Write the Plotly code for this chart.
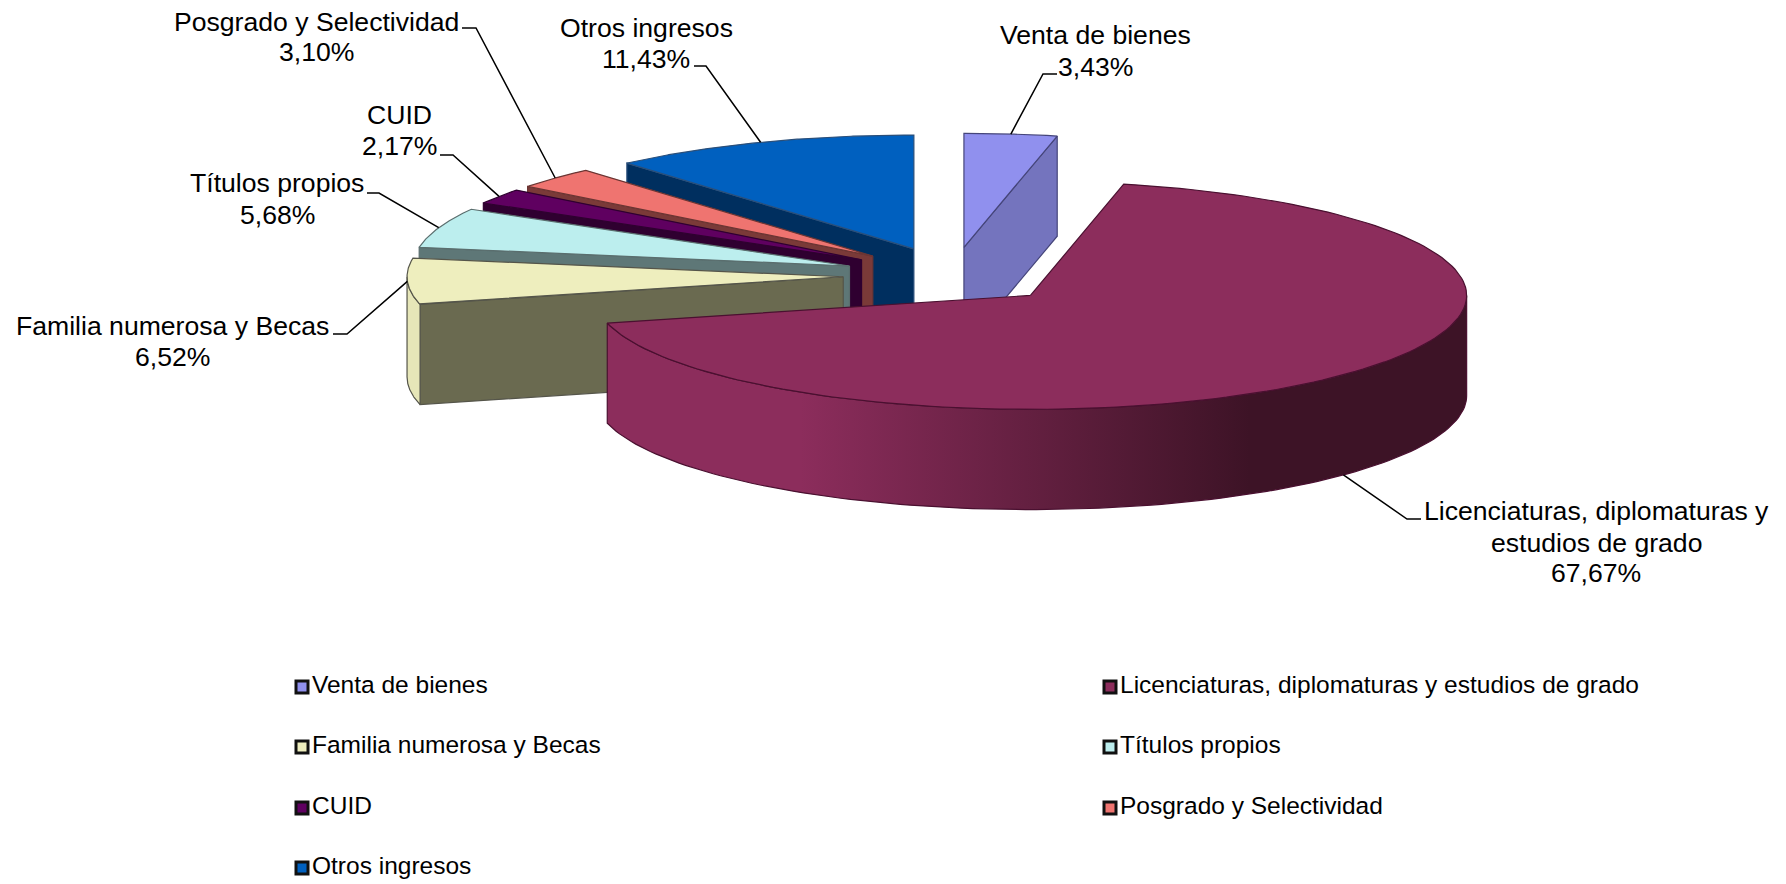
import numpy as np
import plotly.graph_objects as go

categories = [
    "Venta de bienes",
    "Licenciaturas, diplomaturas y estudios de grado",
    "Familia numerosa y Becas",
    "Títulos propios",
    "CUID",
    "Posgrado y Selectividad",
    "Otros ingresos",
]
values = [3.43, 67.67, 6.52, 5.68, 2.17, 3.10, 11.43]
top_colors = ["#9090EE", "#8C2D5C", "#EEEEBE", "#BCEEEE", "#5F0060", "#EF7470", "#0060BF"]
wall_colors = ["#7474BE", "#8C2D5C", "#6A6A50", "#5E7777", "#2F0030", "#7A3A38", "#002F5F"]
outer_colors = ["#7474BE", "#8C2D5C", "#E6E6B8", "#5E7777", "#2F0030", "#7A3A38", "#002F5F"]
edge_colors = ["#45457A", "#4A1030", "#55554A", "#5A6E6E", "#2F0030", "#6B3533", "#2A4F7A"]

# label text lines, text centre x, y of each line, leader elbow and end
label_lines = [
    ["Venta de bienes", "3,43%"],
    ["Licenciaturas, diplomaturas y", "estudios de grado", "67,67%"],
    ["Familia numerosa y Becas", "6,52%"],
    ["Títulos propios", "5,68%"],
    ["CUID", "2,17%"],
    ["Posgrado y Selectividad", "3,10%"],
    ["Otros ingresos", "11,43%"],
]
label_x = [1095, 1596, 172, 277, 399, 316, 646]
label_y = [[35, 67], [511, 543, 573], [326, 357], [183, 215], [115, 146], [22, 52], [28, 59]]
elbow = [(1043, 74), (1407, 519), (347, 334), (379, 193), (453, 155), (476, 28), (706, 66)]
leader_end = [(1057, 74), (1421, 519), (333, 334), (367, 193), (440, 155), (462, 28), (694, 66)]

# legend slots, two columns
legend_x = [302, 1110, 302, 1110, 302, 1110, 302]
legend_y = [687, 687, 747, 747, 808, 808, 868]
LEGEND_TEXT_GAP = 10

# pie geometry in page pixels
CX, CY = 952.2, 275.6
RX, RY = 436.2, 113.9
EXPLODE = 0.25
DEPTH = 100.2
FONT = "Liberation Sans"


def rim(cx, cy, t0, t1, n=60):
    t = np.deg2rad(np.linspace(t0, t1, n))
    return cx + RX * np.sin(t), cy - RY * np.cos(t)


def add_poly(fig, x, y, fill, line, **kw):
    fig.add_trace(
        go.Scatter(
            x=list(x) + [x[0]],
            y=list(y) + [y[0]],
            mode="lines",
            fill="toself",
            fillcolor=fill,
            line=dict(color=line, width=1.2),
            hoverinfo="skip",
            showlegend=False,
            **kw,
        )
    )


fig = go.Figure()

edges = np.concatenate([[0], np.cumsum(values)]) * 3.6
mids = (edges[:-1] + edges[1:]) / 2
centers = []
for m in mids:
    r = np.deg2rad(m)
    centers.append((CX + EXPLODE * RX * np.sin(r), CY - EXPLODE * RY * np.cos(r)))

# paint from the back of the pie to the front
for i in sorted(range(len(values)), key=lambda k: -abs(mids[k] - 180)):
    t0, t1 = edges[i], edges[i + 1]
    cx, cy = centers[i]

    # straight cut walls that face the viewer
    for t, normal in ((t0, t0 - 90), (t1, t1 + 90)):
        if np.cos(np.deg2rad(normal)) < -1e-6:
            px, py = rim(cx, cy, t, t, 1)
            add_poly(
                fig,
                [cx, px[0], px[0], cx],
                [cy, py[0], py[0] + DEPTH, cy + DEPTH],
                wall_colors[i],
                edge_colors[i],
            )

    # curved outer wall
    a, b = max(t0, 90), min(t1, 270)
    if b > a:
        ax, ay = rim(cx, cy, a, b, 120)
        xs = np.concatenate([ax, ax[::-1]])
        ys = np.concatenate([ay, ay[::-1] + DEPTH])
        kw = {}
        if b - a > 90:
            kw["fillgradient"] = dict(
                type="horizontal",
                start=800,
                stop=1250,
                colorscale=[[0, outer_colors[i]], [1, "#3D1326"]],
            )
        add_poly(fig, xs, ys, outer_colors[i], edge_colors[i], **kw)

    # top face
    ax, ay = rim(cx, cy, t0, t1, 160)
    add_poly(
        fig,
        np.concatenate([[cx], ax]),
        np.concatenate([[cy], ay]),
        top_colors[i],
        edge_colors[i],
    )

# leader lines and data labels
annotations = []
for i in range(len(values)):
    cx, cy = centers[i]
    px, py = rim(cx, cy, mids[i], mids[i], 1)
    start_y = py[0] + (DEPTH if i == 1 else 0)
    fig.add_trace(
        go.Scatter(
            x=[px[0], elbow[i][0], leader_end[i][0]],
            y=[start_y, elbow[i][1], leader_end[i][1]],
            mode="lines",
            line=dict(color="black", width=1.5),
            hoverinfo="skip",
            showlegend=False,
        )
    )
    for line, y in zip(label_lines[i], label_y[i]):
        annotations.append(
            dict(
                x=label_x[i],
                y=y,
                xref="x",
                yref="y",
                text=line,
                showarrow=False,
                xanchor="center",
                yanchor="middle",
                font=dict(family=FONT, size=26.6, color="black"),
            )
        )

# legend keys and names
fig.add_trace(
    go.Scatter(
        x=legend_x,
        y=legend_y,
        mode="markers",
        marker=dict(
            symbol="square",
            size=12,
            color=top_colors,
            line=dict(color="#111111", width=3),
        ),
        hoverinfo="skip",
        showlegend=False,
    )
)
fig.add_trace(
    go.Scatter(
        x=[x + LEGEND_TEXT_GAP for x in legend_x],
        y=legend_y,
        mode="text",
        text=categories,
        textposition="middle right",
        textfont=dict(family=FONT, size=24.5, color="black"),
        hoverinfo="skip",
        showlegend=False,
    )
)

fig.update_layout(
    width=1786,
    height=884,
    margin=dict(t=0, b=0, l=0, r=0),
    paper_bgcolor="white",
    plot_bgcolor="white",
    showlegend=False,
    annotations=annotations,
    xaxis=dict(range=[0, 1786], visible=False, fixedrange=True),
    yaxis=dict(range=[884, 0], visible=False, fixedrange=True),
)

# the page body has a default margin that would push the chart off by 8 px
fig.write_html(
    "out.html",
    config=dict(displayModeBar=False),
    post_script="document.body.style.margin='0';",
)
